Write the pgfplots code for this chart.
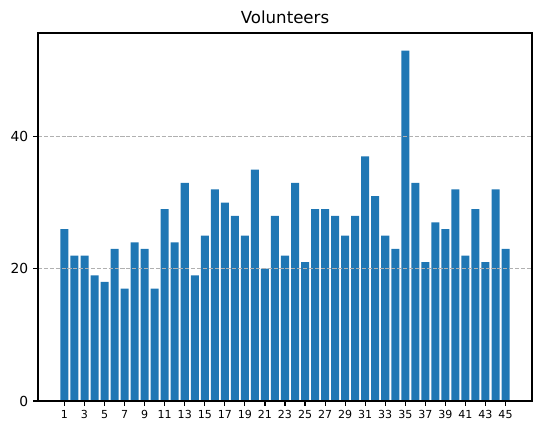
\documentclass[border=0pt]{standalone}
\usepackage{fontspec}
\setmainfont{DejaVu Sans}
\usepackage{pgfplots}
\pgfplotsset{compat=1.18}
\definecolor{mplblue}{HTML}{1F77B4}
\definecolor{gridgray}{HTML}{B0B0B0}
\begin{document}
\begin{tikzpicture}
\path[use as bounding box] (-27.36bp,-21.6bp) rectangle (363.6bp,288.72bp);
\begin{axis}[
  at={(0,0)}, anchor=south west,
  scale only axis,
  width=355.68bp, height=264.96bp,
  xmin=-1.64, xmax=47.64,
  ymin=0, ymax=55.65,
  xtick={1,3,...,45},
  ytick={0,20,40},
  xtick pos=bottom, ytick pos=left,
  tick align=outside,
  major tick length=3.5bp,
  tick style={black, line width=0.8bp},
  axis line style={line width=0.8bp},
  ymajorgrids,
  grid style={gridgray, dash pattern=on 2.96bp off 1.28bp, line width=0.8bp},
  axis on top,
  /pgf/number format/assume math mode=true,
  x tick label style={font=\fontsize{8}{9.6}\selectfont},
  y tick label style={font=\fontsize{10}{12}\selectfont},
  title={Volunteers},
  title style={font=\fontsize{12}{14.4}\selectfont, yshift=-3bp},
]
\addplot[ybar, bar width=0.8, fill=mplblue, draw=none, bar shift=0pt] coordinates {
(1,26) (2,22) (3,22) (4,19) (5,18) (6,23) (7,17) (8,24) (9,23) (10,17)
(11,29) (12,24) (13,33) (14,19) (15,25) (16,32) (17,30) (18,28) (19,25) (20,35)
(21,20) (22,28) (23,22) (24,33) (25,21) (26,29) (27,29) (28,28) (29,25) (30,28)
(31,37) (32,31) (33,25) (34,23) (35,53) (36,33) (37,21) (38,27) (39,26) (40,32)
(41,22) (42,29) (43,21) (44,32) (45,23)
};
\end{axis}
\end{tikzpicture}
\end{document}
